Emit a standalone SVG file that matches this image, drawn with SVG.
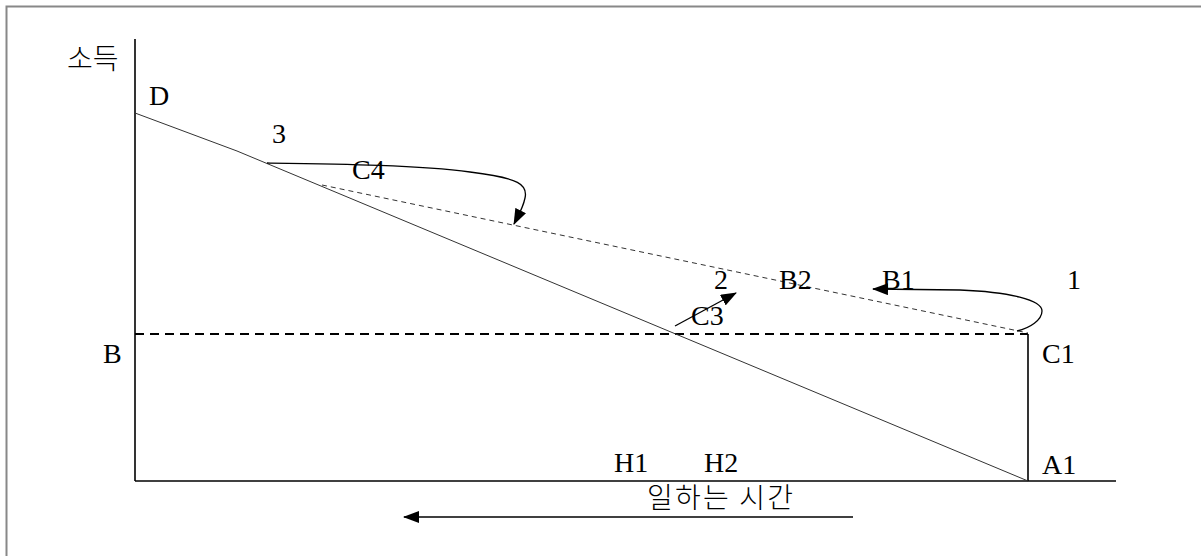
<svg xmlns="http://www.w3.org/2000/svg" width="1201" height="556" viewBox="0 0 1201 556">
<style>
.t{font-family:"Liberation Serif","Times New Roman",serif;font-size:28px;fill:#000}
.k{font-family:"Noto Sans CJK KR",sans-serif;font-size:28px;font-weight:300;fill:#000}
.ax{stroke:#000;stroke-width:1.6;fill:none}
.thin{stroke:#333;stroke-width:1;fill:none}
.cur{stroke:#000;stroke-width:1.3;fill:none}
</style>
<defs>
<marker id="ah" markerWidth="16" markerHeight="12" refX="15" refY="6" orient="auto" markerUnits="userSpaceOnUse">
<path d="M0,0 L16,6 L0,12 Z" fill="#000"/>
</marker>
</defs>
<rect width="1201" height="556" fill="#fff"/>
<g id="frame"><path d="M6.5,556 V6.5 H1201" stroke="#888" stroke-width="2" fill="none"/></g>
<g id="axes">
<line class="ax" x1="135" y1="39" x2="135" y2="481"/>
<line class="ax" x1="135" y1="481" x2="1116" y2="481" stroke-width="2"/>
<line class="ax" x1="1028" y1="334" x2="1028" y2="481"/>
<line x1="135" y1="334" x2="1028" y2="334" stroke="#000" stroke-width="2" stroke-dasharray="9,6"/>
</g>
<g id="connectors">
<polyline class="thin" points="135,113 237,151 1028,481"/>
<line x1="322" y1="185" x2="1028" y2="333" stroke="#333" stroke-width="1" stroke-dasharray="5,4"/>
<path class="cur" d="M267,163 C340,164 420,165 470,172 C520,178 528,185 525,198 C523,208 519,214 514,224" marker-end="url(#ah)"/>
<path class="cur" d="M675,326 L736,293" marker-end="url(#ah)"/>
<path class="cur" d="M1017,331 C1030,328 1042,320 1042,311 C1042,300 1010,292 960,290 L873,289" marker-end="url(#ah)"/>
<line class="ax" x1="853" y1="517" x2="404" y2="517" stroke-width="1.5" marker-end="url(#ah)"/>
</g>
<g id="labels">
<text class="k" x="67" y="69">소득</text>
<text class="t" x="149" y="105">D</text>
<text class="t" x="272" y="143">3</text>
<text class="t" x="352" y="179">C4</text>
<text class="t" x="714" y="289">2</text>
<text class="t" x="779" y="289">B2</text>
<text class="t" x="882" y="289">B1</text>
<text class="t" x="1067" y="289">1</text>
<text class="t" x="691" y="325">C3</text>
<text class="t" x="103" y="363">B</text>
<text class="t" x="1042" y="363">C1</text>
<text class="t" x="614" y="472">H1</text>
<text class="t" x="704" y="472">H2</text>
<text class="t" x="1042" y="474">A1</text>
<text class="k" x="647" y="508" textLength="146" lengthAdjust="spacing">일하는 시간</text>
</g>
</svg>
